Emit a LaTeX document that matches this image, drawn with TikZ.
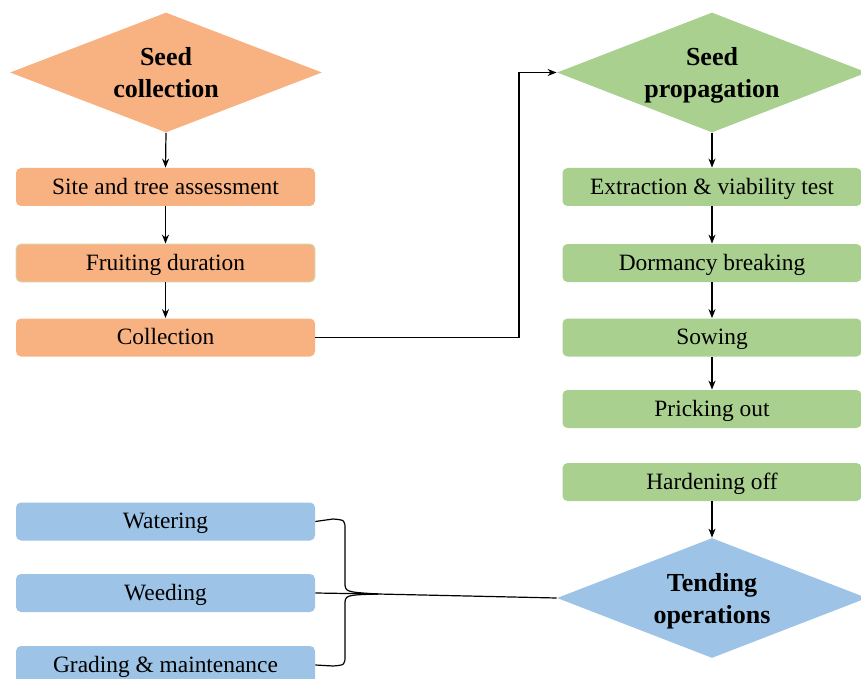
\documentclass[tikz,border=0pt]{standalone}
\usepackage{fontspec}
\setmainfont{Liberation Serif}
\usetikzlibrary{shapes.geometric,arrows.meta}
\definecolor{orng}{RGB}{248,178,130}
\definecolor{grn}{RGB}{169,208,142}
\definecolor{blu}{RGB}{157,195,230}
\definecolor{faintgrn}{RGB}{200,225,180}
\begin{document}
\begin{tikzpicture}[x=0.5pt,y=-0.5pt,
  stepbox/.style={rectangle,rounded corners=2.5pt,minimum width=149.5pt,minimum height=19pt,inner sep=0pt,text height=9.4pt,text depth=2pt,font=\fontsize{11.7}{14}\selectfont},
  decis/.style={diamond,aspect=2.6,inner sep=0pt,minimum width=155pt,minimum height=60pt,align=center,text depth=0pt,font=\fontsize{13}{16}\selectfont\bfseries},
  conn/.style={draw=black,line width=0.6pt},
  arr/.style={conn,-{Stealth[length=4.5pt,width=3.5pt]}}]
\useasboundingbox (0,0) rectangle (861,679);
% left column
\node[decis,fill=orng,minimum width=156pt] (sc) at (166,72.5) {Seed\\collection};
\node[stepbox,fill=orng] (site) at (165.5,187) {Site and tree assessment};
\node[stepbox,fill=orng,draw=faintgrn,line width=0.4pt] (fruit) at (165.5,263) {Fruiting duration};
\node[stepbox,fill=orng] (coll) at (165.5,337.5) {Collection};
% right column
\node[decis,fill=grn] (sp) at (712,72.5) {Seed\\propagation};
\node[stepbox,fill=grn] (ext) at (712,187) {Extraction \& viability test};
\node[stepbox,fill=grn] (dorm) at (712,263) {Dormancy breaking};
\node[stepbox,fill=grn] (sow) at (712,337.5) {Sowing};
\node[stepbox,fill=grn] (prick) at (712,409) {Pricking out};
\node[stepbox,fill=grn] (hard) at (712,482) {Hardening off};
\node[decis,fill=blu] (tend) at (712,598) {Tending\\operations};
% bottom left
\node[stepbox,fill=blu] (water) at (165.5,521.5) {Watering};
\node[stepbox,fill=blu] (weed) at (165.5,593) {Weeding};
\node[stepbox,fill=blu] (grade) at (165.5,665) {Grading \& maintenance};
% arrows
\draw[arr] (sc.south) -- (site.north);
\draw[arr] (site.south) -- (fruit.north);
\draw[arr] (fruit.south) -- (coll.north);
\draw[arr] (coll.east) -- (519,337.5) -- (519,72.5) -- (sp.west);
\draw[arr] (sp.south) -- (ext.north);
\draw[arr] (ext.south) -- (dorm.north);
\draw[arr] (dorm.south) -- (sow.north);
\draw[arr] (sow.south) -- (prick.north);
\draw[arr] (hard.south) -- (tend.north);
% brace
\coordinate (bj) at (378,594);
\draw[conn] (water.east) -- (333,519) .. controls (345,520) .. (345,530) -- (345,582) .. controls (345,592) .. (bj);
\draw[conn] (grade.east) -- (333,666) .. controls (345,665) .. (345,655) -- (345,605) .. controls (345,595) .. (bj);
\draw[conn] (weed.east) -- (bj) -- (tend.west);
\end{tikzpicture}
\end{document}
